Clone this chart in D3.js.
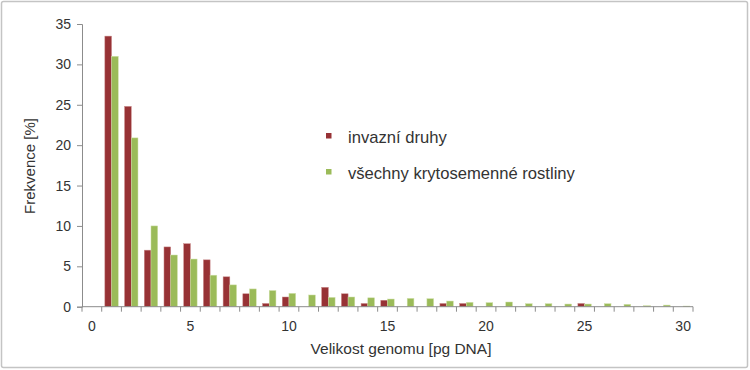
<!DOCTYPE html>
<html><head><meta charset="utf-8">
<script src="https://cdn.jsdelivr.net/npm/d3@7"></script>
<style>
html,body{margin:0;padding:0;background:#fff;}
svg{display:block;font-family:"Liberation Sans",Arial,sans-serif;}
</style></head>
<body><svg id="c" width="750" height="370"></svg>
<script>
const categories = d3.range(0, 31); // genome size bins 0..30 pg
const seriesNames = ["invazní druhy", "všechny krytosemenné rostliny"];
const invasive = [0, 33.5, 24.8, 7.0, 7.4, 7.8, 5.8, 3.7, 1.6, 0.4, 1.2, 0, 2.4, 1.6, 0.4, 0.8, 0, 0, 0.4, 0.4, 0, 0, 0, 0, 0, 0.4, 0, 0, 0, 0, 0];
const allAngio = [0, 31.0, 20.9, 10.0, 6.4, 5.9, 3.9, 2.7, 2.2, 2.0, 1.65, 1.45, 1.15, 1.2, 1.1, 0.95, 1.03, 0.99, 0.7, 0.54, 0.5, 0.58, 0.37, 0.37, 0.33, 0.33, 0.37, 0.29, 0.12, 0.2, 0.08];
const yTicks = [0, 5, 10, 15, 20, 25, 30, 35];
const xLabels = [0, 5, 10, 15, 20, 25, 30];
const colors = ["#973235", "#9bbb59"];

const svg = d3.select("#c");
// frame
svg.append("rect").attr("x", 1.5).attr("y", 1.5).attr("width", 746).attr("height", 366)
  .attr("rx", 2).attr("fill", "#fff").attr("stroke", "#c4c4c4").attr("stroke-width", 1.5);

const x = d3.scaleBand().domain(categories).range([82, 693]).padding(0);
const xs = d3.scaleBand().domain([0, 1]).range([0, x.bandwidth()]).paddingInner(0).paddingOuter(0.47);
const y = d3.scaleLinear().domain([0, 35]).range([306.7, 24]);

const series = [invasive, allAngio];
series.forEach((vals, si) => {
  svg.append("g").selectAll("rect").data(categories.filter((c, i) => vals[i] > 0))
    .join("rect")
    .attr("x", c => x(c) + xs(si))
    .attr("width", xs.bandwidth())
    .attr("y", c => y(vals[categories.indexOf(c)]))
    .attr("height", c => y(0) - y(vals[categories.indexOf(c)]))
    .attr("fill", colors[si])
    .attr("stroke", si === 0 ? "#c98a8a" : "#cfe0a8").attr("stroke-width", 0.5);
});

const axisColor = "#8c8c8c";
// y axis
const yAxis = svg.append("g").attr("transform", "translate(82,0)")
  .call(d3.axisLeft(y).tickValues(yTicks).tickSize(5).tickPadding(6));
yAxis.select(".domain").attr("stroke", axisColor);
yAxis.selectAll(".tick line").attr("stroke", axisColor);
yAxis.selectAll("text").attr("fill", "#333").attr("font-size", 14).attr("font-family", "Liberation Sans, Arial, sans-serif");

// x axis baseline
svg.append("line").attr("x1", x.range()[0]).attr("x2", x.range()[1])
  .attr("y1", y(0)).attr("y2", y(0)).attr("stroke", axisColor);
const bounds = categories.map(c => x(c)).concat([x.range()[1]]);
svg.append("g").selectAll("line").data(bounds).join("line")
  .attr("x1", d => d).attr("x2", d => d).attr("y1", y(0)).attr("y2", y(0) + 5)
  .attr("stroke", axisColor);
svg.append("g").selectAll("text").data(xLabels).join("text")
  .attr("x", d => x(d) + x.bandwidth() / 2).attr("y", 331)
  .attr("text-anchor", "middle").attr("font-size", 14).attr("fill", "#333")
  .text(d => d);

// axis titles
svg.append("text").attr("x", 401).attr("y", 354).attr("text-anchor", "middle")
  .attr("font-size", 15.5).attr("fill", "#333").text("Velikost genomu [pg DNA]");
svg.append("text").attr("transform", "translate(35,166) rotate(-90)").attr("text-anchor", "middle")
  .attr("font-size", 15).attr("fill", "#333").text("Frekvence [%]");

// legend
const leg = svg.append("g").selectAll("g").data(seriesNames).join("g")
  .attr("transform", (d, i) => `translate(326,${133 + i * 36})`);
leg.append("rect").attr("width", 5.5).attr("height", 5.5).attr("fill", (d, i) => colors[i]);
leg.append("text").attr("x", 22).attr("y", 10).attr("font-size", 16.6).attr("fill", "#333").text(d => d);
</script></body></html>
